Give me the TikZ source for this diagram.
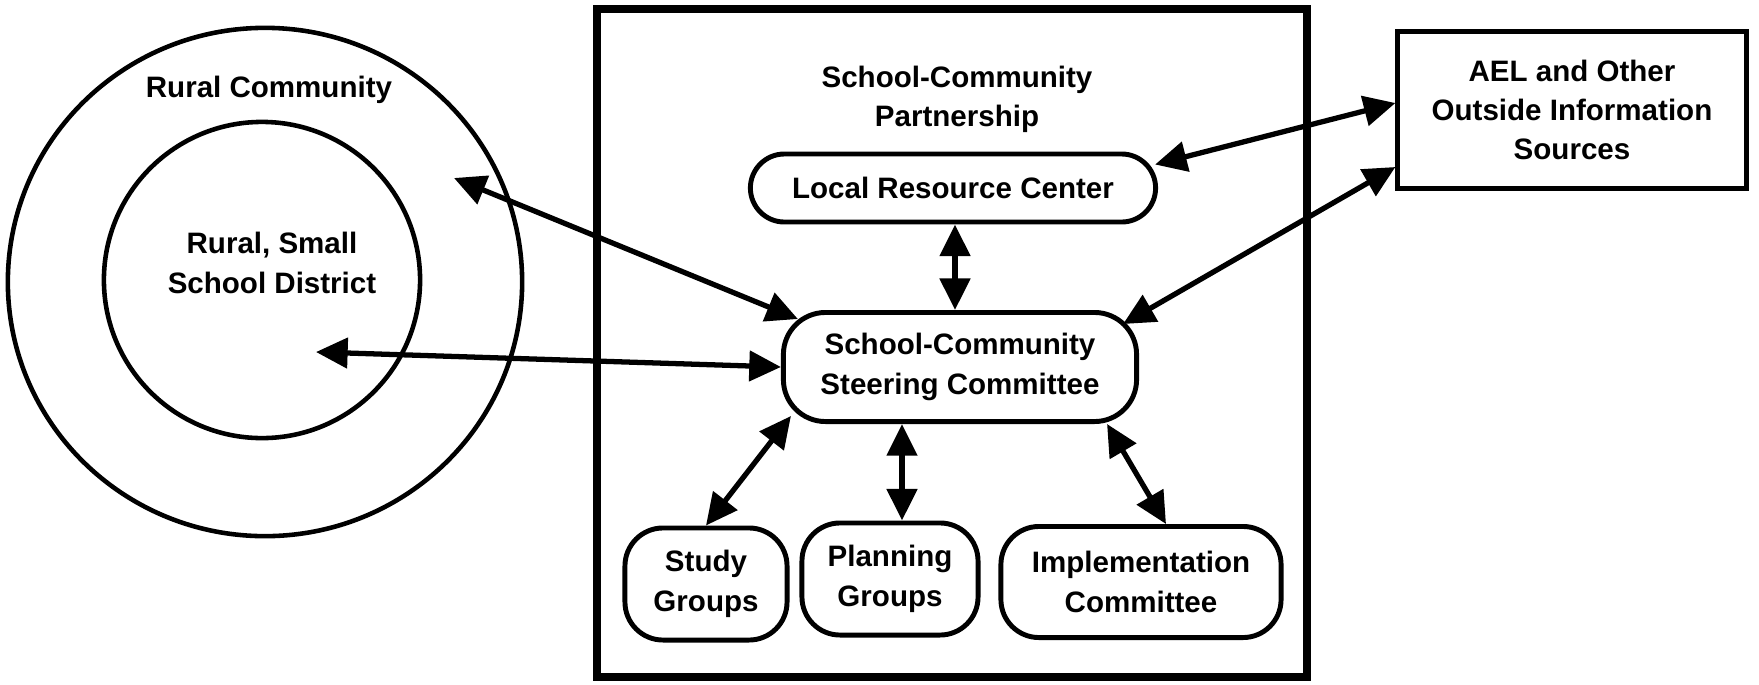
\documentclass[tikz,border=0pt]{standalone}
\usepackage{fontspec}
\setmainfont{Liberation Sans}
\usetikzlibrary{shapes.geometric,positioning,calc,arrows.meta}

\tikzset{
  label text/.style={font=\fontsize{8.4}{11.2}\selectfont\bfseries, align=center},
  roundbox/.style={draw, line width=1.4pt, rounded corners=0.38cm, label text, inner sep=0pt},
  ring/.style={draw, ellipse, line width=1.3pt, inner sep=0pt},
  link/.style={{Triangle[length=9pt,width=8.5pt]}-{Triangle[length=9pt,width=8.5pt]}, line width=1.5pt},
}

\begin{document}
\begin{tikzpicture}[x=0.01cm, y=-0.01cm]
\useasboundingbox (0,0) rectangle (1759,684);

% community rings
\node[ring, minimum width=5.14cm, minimum height=5.08cm] (community) at (265,282) {};
\node[ring, minimum width=3.16cm, minimum height=3.16cm] (district) at (262,280) {};
\node[label text] (commtitle) at (269,90) {Rural Community};
\node[label text] (disttitle) at (272,263) {Rural, Small\\School District};
\coordinate (commpt) at (454,178);
\coordinate (distpt) at (316,352);

% partnership frame
\node[draw, line width=2.2pt, minimum width=7.09cm, minimum height=6.67cm] (partner) at (952,343) {};
\node[label text, below=0.48cm of partner.north, xshift=0.05cm] (parttitle) {School-Community\\Partnership};

\node[roundbox, minimum width=4.05cm, minimum height=0.68cm, rounded corners=0.34cm] (lrc) at (953,188) {Local Resource Center};
\node[roundbox, minimum width=3.53cm, minimum height=1.09cm, rounded corners=0.42cm] (steer) at (960,367) {School-Community\\Steering Committee};
\node[roundbox, minimum width=1.62cm, minimum height=1.12cm] (study) at (706,584) {Study\\Groups};
\node[roundbox, minimum width=1.76cm, minimum height=1.12cm] (plan) at (890,579) {Planning\\Groups};
\node[roundbox, minimum width=2.8cm, minimum height=1.11cm] (impl) at (1141,582) {Implementation\\Committee};

% outside sources
\node[draw, line width=1.4pt, label text, minimum width=3.48cm, minimum height=1.57cm] (ael) at (1572,110) {AEL and Other\\Outside Information\\Sources};

% links
\draw[link] (commpt) -- ($(steer.north west)+(17,9)$);
\draw[link] (distpt) -- (steer.west);
\draw[link] ($(lrc.north east)+(-3,13)$) -- ($(ael.west)+(0,-7)$);
\draw[link] ($(steer.north east)+(-16,14)$) -- ($(ael.west)+(0,57)$);
\draw[link] ($(lrc.south)+(2,0)$) -- ($(steer.north)+(-5,0)$);
\draw[link] ($(steer.south west)+(10,-8)$) -- (study.north);
\draw[link] ($(steer.south)+(-58,0)$) -- ($(plan.north)+(12,0)$);
\draw[link] ($(steer.south east)+(-32,0)$) -- ($(impl.north)+(25,0)$);
\end{tikzpicture}
\end{document}
